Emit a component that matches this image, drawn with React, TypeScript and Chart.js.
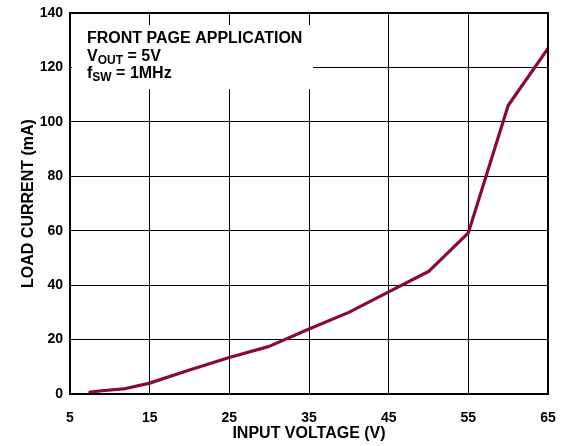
import React, { useEffect, useRef } from "react";
import { Chart, registerables } from "chart.js";

Chart.register(...registerables);

const inputVoltage = [7.5, 9, 12, 15, 20, 25, 30, 35, 40, 45, 50, 55, 60, 65];
const loadCurrent = [0.7, 1.2, 2.0, 4.0, 8.8, 13.4, 17.5, 23.9, 30.0, 37.5, 45.0, 59.2, 106, 127];
const xTicks = [5, 15, 25, 35, 45, 55, 65];
const yTicks = [0, 20, 40, 60, 80, 100, 120, 140];

const FONT = "'Liberation Sans', Arial, sans-serif";

const overlayPlugin = {
  id: "overlay",
  beforeDatasetsDraw(chart: any) {
    const { ctx, chartArea } = chart;
    ctx.save();
    ctx.fillStyle = "#fff";
    ctx.fillRect(chartArea.left + 2, chartArea.top + 12, 241, 64);
    ctx.fillStyle = "#000";
    ctx.textBaseline = "alphabetic";
    ctx.textAlign = "left";
    const x0 = chartArea.left + 17;
    const drawSub = (main: string, sub: string, rest: string, y: number) => {
      ctx.font = `bold 16px ${FONT}`;
      ctx.fillText(main, x0, y);
      let x = x0 + ctx.measureText(main).width;
      ctx.font = `bold 12px ${FONT}`;
      ctx.fillText(sub, x, y + 2.5);
      x += ctx.measureText(sub).width;
      ctx.font = `bold 16px ${FONT}`;
      ctx.fillText(rest, x, y);
    };
    ctx.font = `bold 16px ${FONT}`;
    ctx.fillText("FRONT PAGE APPLICATION", x0, chartArea.top + 30.3);
    drawSub("V", "OUT", " = 5V", chartArea.top + 48);
    drawSub("f", "SW", " = 1MHz", chartArea.top + 65.3);
    ctx.restore();
  },
  afterDraw(chart: any) {
    const { ctx, chartArea } = chart;
    ctx.save();
    ctx.strokeStyle = "#000";
    ctx.lineWidth = 2;
    ctx.strokeRect(chartArea.left, chartArea.top, chartArea.right - chartArea.left, chartArea.bottom - chartArea.top);
    ctx.restore();
  },
};

export default function App() {
  const ref = useRef<HTMLCanvasElement>(null);
  useEffect(() => {
    document.body.style.margin = "0";
    const chart = new Chart(ref.current as HTMLCanvasElement, {
      type: "line",
      data: {
        datasets: [
          {
            data: inputVoltage.map((v, i) => ({ x: v, y: loadCurrent[i] })),
            borderColor: "#8c0a2e",
            borderWidth: 3.2,
            pointRadius: 0,
            tension: 0,
            fill: false,
            borderJoinStyle: "round",
            borderCapStyle: "round",
          },
        ],
      },
      options: {
        animation: false,
        responsive: false,
        layout: { padding: { top: 13, right: 19, left: 0, bottom: 0 } },
        plugins: { legend: { display: false }, tooltip: { enabled: false } },
        scales: {
          x: {
            type: "linear",
            min: 5,
            max: 65,
            afterBuildTicks: (s: any) => {
              s.ticks = xTicks.map((v) => ({ value: v }));
            },
            afterFit: (s: any) => {
              s.height = 52;
              s.paddingLeft = 0;
              s.paddingRight = 0;
            },
            grid: { color: "#000", lineWidth: 1, drawTicks: false },
            border: { display: false },
            ticks: {
              color: "#000",
              padding: 16,
              font: { family: FONT, size: 14, weight: "bold" },
              maxRotation: 0,
            },
            title: {
              display: true,
              text: "INPUT VOLTAGE (V)",
              color: "#000",
              font: { family: FONT, size: 16, weight: "bold" },
              padding: { top: 0, bottom: 3 },
            },
          },
          y: {
            min: 0,
            max: 140,
            afterBuildTicks: (s: any) => {
              s.ticks = yTicks.map((v) => ({ value: v }));
            },
            afterFit: (s: any) => {
              s.width = 70;
              s.paddingTop = 0;
              s.paddingBottom = 0;
            },
            grid: { color: "#000", lineWidth: 1, drawTicks: false },
            border: { display: false },
            ticks: {
              color: "#000",
              padding: 7,
              font: { family: FONT, size: 14, weight: "bold" },
            },
            title: {
              display: true,
              text: "LOAD CURRENT (mA)",
              color: "#000",
              font: { family: FONT, size: 16, weight: "bold" },
              padding: { top: 19, bottom: 0 },
            },
          },
        },
      },
      plugins: [overlayPlugin],
    } as any);
    return () => chart.destroy();
  }, []);
  return <canvas ref={ref} width={567} height={446} style={{ display: "block" }} />;
}
